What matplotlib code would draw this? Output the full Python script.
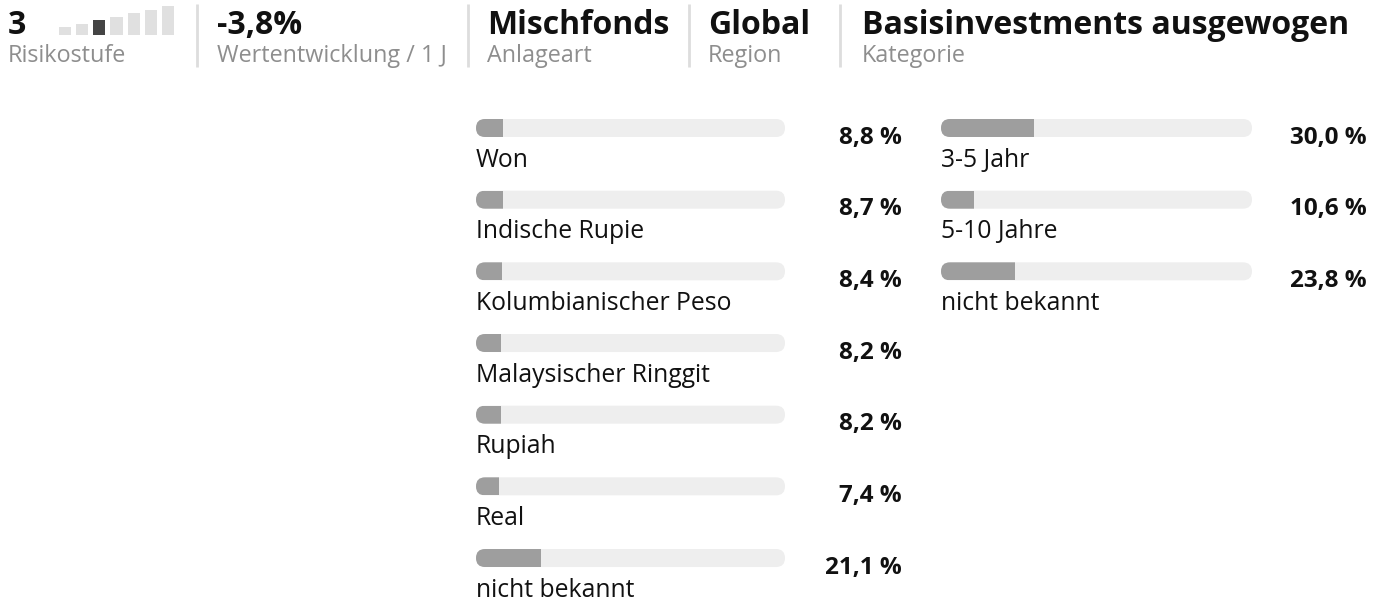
import matplotlib
matplotlib.use("Agg")
import matplotlib.pyplot as plt
from matplotlib.patches import FancyBboxPatch

plt.rcParams['font.family'] = ['Open Sans', 'DejaVu Sans']

# Kopfzeile
risk_level = 3
risk_steps = [1, 2, 3, 4, 5, 6, 7]
header_values = ["-3,8%", "Mischfonds", "Global", "Basisinvestments ausgewogen"]
header_captions = ["Wertentwicklung / 1 J", "Anlageart", "Region", "Kategorie"]

# Währungen
currency_labels = ["Won", "Indische Rupie", "Kolumbianischer Peso",
                   "Malaysischer Ringgit", "Rupiah", "Real", "nicht bekannt"]
currency_shares = [8.8, 8.7, 8.4, 8.2, 8.2, 7.4, 21.1]

# Restlaufzeiten
maturity_labels = ["3-5 Jahr", "5-10 Jahre", "nicht bekannt"]
maturity_shares = [30.0, 10.6, 23.8]

W, H = 1387, 598
DPI = 100
track_color = '#eeeeee'
fill_color = '#9e9e9e'
text_color = '#111111'
caption_color = '#8e8e8e'
sep_color = '#dddddd'

fig = plt.figure(figsize=(W / DPI, H / DPI), dpi=DPI)
fig.patch.set_facecolor('white')


def px_axes(x0, y0, w, h):
    # Achse in Pixeln (von oben links) anlegen
    return fig.add_axes([x0 / W, 1 - (y0 + h) / H, w / W, h / H])


# Hintergrundachse für Kopfzeile
bg = px_axes(0, 0, W, H)
bg.set_xlim(0, W)
bg.set_ylim(H, 0)
bg.axis('off')

bg.text(8, 34, str(risk_level), fontsize=23, fontweight='bold', color=text_color, va='baseline')
bg.text(8, 62, "Risikostufe", fontsize=16.8, color=caption_color, va='baseline')

header_x = [217, 487, 708, 862]
for x, val, cap in zip(header_x, header_values, header_captions):
    bg.text(x, 34, val, fontsize=23, fontweight='bold', color=text_color, va='baseline')
    bg.text(x, 62, cap, fontsize=16.8, color=caption_color, va='baseline')

for x in [197, 468, 689, 840]:
    bg.plot([x, x], [4, 67], color=sep_color, lw=2, solid_capstyle='butt')

# Risikoskala
rax = px_axes(58, 6, 117, 28.5)
rax.bar(risk_steps, [s + 1 for s in risk_steps], width=0.7, align='center',
        color=['#444444' if s == risk_level else '#e0e0e0' for s in risk_steps])
rax.set_xlim(0.6, 7.4)
rax.set_ylim(0, 8)
rax.axis('off')

row_pitch = 71.67
bar_h_px = 18
n_rows = len(currency_labels)


def draw_column(x0, width, labels, shares, value_right):
    top = 128 - row_pitch / 2
    ax = px_axes(x0, top, width, row_pitch * n_rows)
    ax.set_xlim(0, 100)
    ax.set_ylim(n_rows - 0.5, -0.5)
    ax.axis('off')
    h = bar_h_px / row_pitch
    r_x = (bar_h_px / 2) / (width / 100)
    aspect = (bar_h_px / 2 / row_pitch) / r_x
    for i, (lab, val) in enumerate(zip(labels, shares)):
        track = FancyBboxPatch((0, i - h / 2), 100, h,
                               boxstyle=f"round,pad=0,rounding_size={r_x}",
                               mutation_aspect=aspect, facecolor=track_color,
                               edgecolor='none')
        ax.add_patch(track)
        bar = ax.barh(i, val, height=h, left=0, color=fill_color, edgecolor='none')
        for b in bar:
            b.set_clip_path(track)
        ax.text(0, i + 38.7 / row_pitch, lab, fontsize=17.8, color=text_color,
                va='baseline', ha='left', clip_on=False)
        ax.text(value_right, i + 15.5 / row_pitch,
                f"{val:.1f} %".replace('.', ','), fontsize=17.5, fontweight='bold',
                color=text_color, va='baseline', ha='right', clip_on=False,
                transform=ax.get_yaxis_transform())
    return ax


draw_column(476, 309, currency_labels, currency_shares, (902 - 476) / 309)
draw_column(941, 311, maturity_labels, maturity_shares, (1367 - 941) / 311)

fig.savefig("out.png", dpi=DPI, facecolor='white')
